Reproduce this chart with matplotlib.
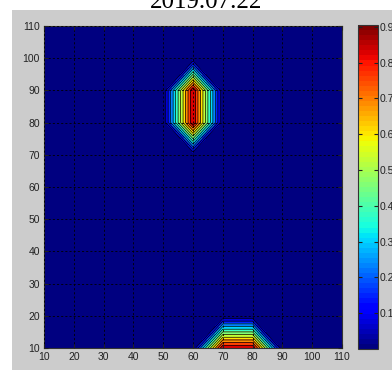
import numpy as np
import matplotlib
matplotlib.use('Agg')
import matplotlib.pyplot as plt
from matplotlib.patches import Rectangle
from matplotlib.colors import Normalize
from matplotlib.cm import ScalarMappable

# grid of the measurement (x, y) and the non-zero nodes
x_vals = [10, 20, 30, 40, 50, 60, 70, 80, 90, 100, 110]
y_vals = [10, 20, 30, 40, 50, 60, 70, 80, 90, 100, 110]
peak_x = [60, 60, 70, 80]
peak_y = [80, 90, 10, 10]
peak_z = [0.905, 0.905, 0.905, 0.905]
cbar_ticks = [0.1, 0.2, 0.3, 0.4, 0.5, 0.6, 0.7, 0.8, 0.9]
title = '2019.07.22'

Z = np.zeros((len(y_vals), len(x_vals)))
for px, py, pz in zip(peak_x, peak_y, peak_z):
    Z[y_vals.index(py), x_vals.index(px)] = pz

zmax = Z.max()
levels = np.linspace(0, zmax, 13)
jet = plt.get_cmap('jet', 64)
# matlab style: each band takes the colour of its lower level
band_colors = [jet(lv / zmax) for lv in levels[:-1]]

plt.rcParams['font.family'] = ['Liberation Sans Narrow', 'Liberation Sans', 'DejaVu Sans']
plt.rcParams['font.size'] = 7.5

W, H = 392, 370
fig = plt.figure(figsize=(W / 100, H / 100), dpi=100, facecolor='white')
fig.patches.append(Rectangle((12 / W, 0), 1, 360 / H, transform=fig.transFigure,
                             facecolor='#cccccc', edgecolor='none', zorder=-10))

ax = fig.add_axes([44 / W, 22 / H, 298 / W, 322 / H])
ax.contourf(x_vals, y_vals, Z, levels=levels, colors=band_colors)
ax.contour(x_vals, y_vals, Z, levels=levels[1:-1], colors='k', linewidths=0.5)
ax.set_xlim(10, 110)
ax.set_ylim(10, 110)
ax.set_xticks(x_vals)
ax.set_yticks(y_vals)
ax.set_axisbelow(False)
ax.grid(True, color='k', linestyle=(0, (2.5, 2.5)), linewidth=0.6)
ax.tick_params(direction='in', length=3, top=True, right=True, pad=3, colors='#222222')
for s in ax.spines.values():
    s.set_linewidth(0.8)
    s.set_color('#333333')

cax = fig.add_axes([358 / W, 21 / H, 20 / W, 324 / H])
sm = ScalarMappable(norm=Normalize(0, zmax), cmap=jet)
cb = fig.colorbar(sm, cax=cax, ticks=cbar_ticks)
cax.tick_params(direction='in', length=3, left=True, right=True, pad=1.5, colors='#222222')
cb.outline.set_linewidth(0.8)
cb.outline.set_edgecolor('#333333')

# title sits mostly above the top edge of the screenshot
fig.text(206 / W, (H - 8) / H, title, ha='center', va='baseline',
         fontsize=18, family='Liberation Serif')

fig.savefig('out.png', dpi=100, facecolor=fig.get_facecolor())
